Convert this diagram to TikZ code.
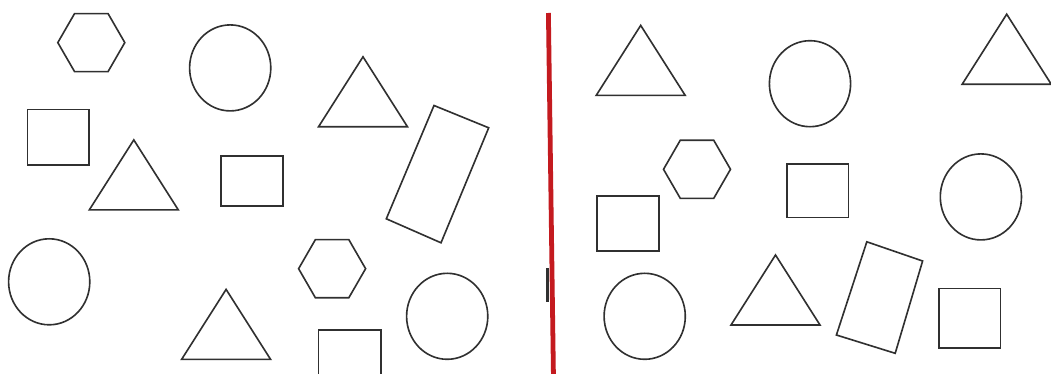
\documentclass[tikz,border=0pt]{standalone}
\definecolor{ink}{HTML}{303030}
\definecolor{divider}{HTML}{C41A1F}

\begin{document}
\begin{tikzpicture}[x=.025cm,y=-.025cm,
 outline/.style={draw=ink,line width=1.15pt,line join=miter},
 divide/.style={draw=divider,line width=3.4pt}]
\clip (0,0) rectangle (1051,374);
\fill[white] (0,0) rectangle (1051,374);
% circles, both halves
\foreach \cx/\cy in {230.2/67.9,49.2/281.8,447.2/316.3,810/83.7,980.9/196.9,644.7/316.3}
 \draw[outline] (\cx,\cy) ellipse (40.6 and 43);
% triangles: apex, then half base and height
\foreach \tx/\ty in {363/56.8,133.8/139.9,226.1/289.4,640.7/25.4,1006.7/14.2,775.5/255}
 \draw[outline] (\tx,\ty) -- ++(44.5,70) -- ++(-89,0) -- cycle;
% squares
\foreach \ax/\ay/\bx/\by in {27.4/109.5/89.2/165.3,221/156.2/282.9/206.3,318.4/330/381.3/392,
 786.7/164.3/848.5/217.4,597.1/196.2/658.9/250.9,938.8/288.4/1000.6/348.3}
 \draw[outline] (\ax,\ay) rectangle (\bx,\by);
% hexagons
\foreach \hx/\hy in {91.3/42.6,332.1/268.7,697/169.3}
 \draw[outline] (\hx,\hy) +(0:33.5) -- +(60:33.5) -- +(120:33.5) -- +(180:33.5)
  -- +(240:33.5) -- +(300:33.5) -- cycle;
% tilted boxes
\draw[outline] (434,105.5) -- (488.7,127.8) -- (441,242.8) -- (386.3,218.8) -- cycle;
\draw[outline] (866.8,241.8) -- (922.6,261) -- (895.2,353.3) -- (836.4,335) -- cycle;
% divider
\draw[divide] (548.4,13) -- (553.5,380);
\fill[ink] (546.4,268.1) rectangle (549.4,301.6);
\end{tikzpicture}
\end{document}
